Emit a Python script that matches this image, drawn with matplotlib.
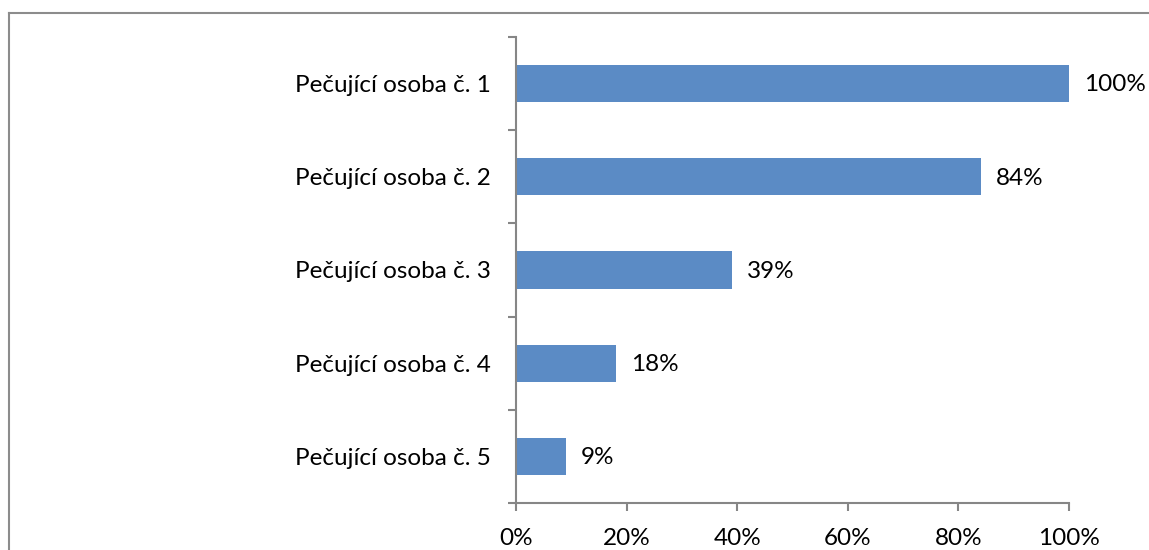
import matplotlib
matplotlib.use("Agg")
import matplotlib.pyplot as plt
from matplotlib.ticker import FixedLocator, PercentFormatter
from matplotlib.lines import Line2D

categories = ["Pečující osoba č. 1", "Pečující osoba č. 2", "Pečující osoba č. 3",
              "Pečující osoba č. 4", "Pečující osoba č. 5"]
values = [100, 84, 39, 18, 9]
xticks = [0, 20, 40, 60, 80, 100]

plt.rcParams['font.family'] = ['Lato', 'DejaVu Sans']

fig = plt.figure(figsize=(11.49, 5.5), dpi=100)
ax = fig.add_axes([516/1149, 1-503/550, (1069-516)/1149, (503-37)/550])

ypos = list(range(len(categories)))
ax.barh(ypos, values, height=0.4, color="#5B8BC5", edgecolor="none")
ax.set_ylim(len(categories)-0.5, -0.5)
ax.set_xlim(0, 100)

grey = "#868686"
for s in ["top", "right"]:
    ax.spines[s].set_visible(False)
for s in ["left", "bottom"]:
    ax.spines[s].set_color(grey)
    ax.spines[s].set_linewidth(1.5)

fs = 17.5
ax.set_yticks(ypos)
ax.set_yticklabels(categories, fontsize=fs)
ax.yaxis.set_minor_locator(FixedLocator([i - 0.5 for i in range(len(categories)+1)]))
ax.tick_params(axis="y", which="major", length=0, pad=18)
ax.tick_params(axis="y", which="minor", length=6, width=1.5, color=grey)

ax.set_xticks(xticks)
ax.xaxis.set_major_formatter(PercentFormatter(decimals=0))
ax.tick_params(axis="x", which="major", length=6, width=1.5, color=grey, labelsize=fs, pad=12)

for y, v in zip(ypos, values):
    ax.annotate(f"{v}%", (v, y), xytext=(11, -1), textcoords="offset points",
                va="center", ha="left", fontsize=fs, color="black")

fig.add_artist(Line2D([9/1149, 1], [1-13/550, 1-13/550], color="#8c8c8c", lw=1.5, transform=fig.transFigure))
fig.add_artist(Line2D([9/1149, 9/1149], [0, 1-13/550], color="#8c8c8c", lw=1.5, transform=fig.transFigure))

fig.savefig("out.png", dpi=100)
